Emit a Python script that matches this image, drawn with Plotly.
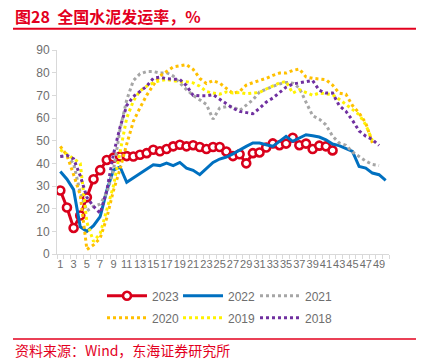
import plotly.graph_objects as go

weeks = list(range(1, 51))
x_tick_labels = [str(i) for i in range(1, 50, 2)]

y2023 = [28, 20.5, 11.5, 17, 25, 33, 37, 41.5, 42.5, 43,
         43.2, 43, 43.8, 44.5, 46, 45.3, 46.3, 47.5, 48.2, 47.5,
         48, 47.2, 46.3, 47.2, 47.2, 45.2, 43.2, 44, 40, 44.5,
         44.8, 47, 48.8, 48, 48.7, 51.3, 48, 48.7, 46.3, 47.8,
         47.5, 45.7]
y2022 = [36.4, 33, 28.4, 12, 10, 12.5, 16.5, 28, 37, 38.4,
         31.6, 33.5, 35.4, 37.5, 39.4, 39, 40.1, 39, 40.4, 37.9,
         36.9, 35, 37.5, 40.4, 41.9, 42.8, 44.2, 46, 47.5, 49,
         49, 48.2, 47.5, 49.7, 51.9, 49.7, 51.2, 52.6, 52.2, 51.6,
         50.4, 48.5, 47.8, 46.5, 45.3, 38.6, 37.9, 35.7, 35, 32.5]
y2021 = [43, 43, 40, 27, 19, 21, 22, 27, 37, 55,
         68, 76.5, 79.5, 80.5, 80.5, 79.8, 80, 78.5, 75.5, 72.5,
         70, 68, 66, 59.5, 64.4, 65, 65, 63.3, 65.5, 68,
         71.5, 72.8, 73.9, 75, 75.7, 75.4, 73.2, 67, 61, 59.5,
         57, 52, 49, 48, 45, 43, 41, 39.5, 39]
y2020 = [47.5, 43.5, 35, 26, 2, 4, 7, 16, 28, 37.5,
         48.5, 58.5, 64.5, 70, 74.5, 78.5, 80.5, 82.5, 83, 83.5,
         81.5, 77.5, 75.2, 76.5, 75.4, 73, 70.8, 71.7, 74.5, 75.6,
         76.4, 77.5, 78.8, 79.8, 79.8, 81, 81.6, 78.1, 77.5, 77.3,
         76.9, 74.5, 71, 70.5, 65.5, 62.2, 57.8, 49]
y2019 = [46, 44, 42, 40, 14, 5.5, 9, 19, 30, 45,
         60, 67.5, 72, 74, 75.5, 76.5, 77, 76.5, 76, 76,
         75.5, 74, 71.7, 71, 70.5, 71.5, 71, 71.2, 70.7, 71,
         71.3, 72.8, 74.2, 75.5, 76.1, 71, 72.5, 71.2, 70, 71,
         70.5, 70.3, 68.3, 66, 64, 61.5, 57, 50]
y2018 = [43, 43.5, 42, 34.5, 25, 21, 18, 28, 44, 56,
         65.5, 69.5, 71.7, 74, 77.5, 78, 77.3, 77.3, 77, 74.3,
         70, 69.8, 69.8, 70.3, 68.3, 66.3, 64.3, 62.9, 62.3, 61.9,
         64.3, 67, 68.8, 71.2, 73.6, 75, 75.5, 76.2, 76.5, 72.2,
         71, 71, 65.5, 63, 59, 54.3, 52, 50.5, 47.9]

RED = "#D9001B"
TXT_RED = "#E3001E"
GRAY_TXT = "#6E6E6E"
AXIS = "#D9D9D9"

fig = go.Figure()
fig.add_trace(go.Scatter(x=weeks[:len(y2023)], y=y2023, name="2023", mode="lines+markers",
                         line=dict(color=RED, width=3),
                         marker=dict(symbol="circle", size=8, color="white",
                                     line=dict(color=RED, width=2.6)),
                         legend="legend"))
fig.add_trace(go.Scatter(x=weeks[:len(y2022)], y=y2022, name="2022", mode="lines",
                         line=dict(color="#0070C0", width=3), legend="legend2"))
fig.add_trace(go.Scatter(x=weeks[:len(y2021)], y=y2021, name="2021", mode="lines",
                         line=dict(color="#A6A6A6", width=3, dash="dot"), legend="legend3"))
fig.add_trace(go.Scatter(x=weeks[:len(y2020)], y=y2020, name="2020", mode="lines",
                         line=dict(color="#FFC000", width=3, dash="dot"), legend="legend4"))
fig.add_trace(go.Scatter(x=weeks[:len(y2019)], y=y2019, name="2019", mode="lines",
                         line=dict(color="#FFF200", width=3, dash="dot"), legend="legend5"))
fig.add_trace(go.Scatter(x=weeks[:len(y2018)], y=y2018, name="2018", mode="lines",
                         line=dict(color="#7030A0", width=3, dash="dot"), legend="legend6"))

legend_common = dict(orientation="h", xanchor="left", yanchor="middle",
                     font=dict(size=12, color=GRAY_TXT), bgcolor="rgba(0,0,0,0)",
                     itemwidth=40, itemclick=False)
col_x = [0.1355, 0.3645, 0.5964]
row_y = [-0.205, -0.313]

fig.update_layout(
    width=421, height=359,
    margin=dict(l=57, r=32, t=50, b=105, autoexpand=False),
    paper_bgcolor="white", plot_bgcolor="white",
    font=dict(family="Liberation Sans, Arial, Noto Sans CJK SC", size=12, color=GRAY_TXT),
    showlegend=True,
    legend=dict(x=col_x[0], y=row_y[0], **legend_common),
    legend2=dict(x=col_x[1], y=row_y[0], **legend_common),
    legend3=dict(x=col_x[2], y=row_y[0], **legend_common),
    legend4=dict(x=col_x[0], y=row_y[1], **legend_common),
    legend5=dict(x=col_x[1], y=row_y[1], **legend_common),
    legend6=dict(x=col_x[2], y=row_y[1], **legend_common),
    xaxis=dict(range=[0.5, 50.5], tickmode="array",
               tickvals=list(range(1, 50, 2)), ticktext=x_tick_labels,
               tickangle=0, ticks="", showline=True, linecolor=AXIS, linewidth=1,
               showgrid=False, zeroline=False,
               tickfont=dict(size=11, color=GRAY_TXT),
               minor=dict(ticks="outside", tickmode="linear", tick0=0.5, dtick=1,
                          ticklen=4, tickcolor=AXIS, tickwidth=1, showgrid=False)),
    yaxis=dict(range=[0, 90], tickmode="linear", tick0=0, dtick=10,
               ticks="outside", ticklen=4, tickcolor=AXIS,
               showline=True, linecolor=AXIS, linewidth=1,
               showgrid=False, zeroline=False,
               tickfont=dict(size=12, color=GRAY_TXT)),
)

# title and source with red rules
fig.add_annotation(xref="paper", yref="paper", x=-0.1325, y=1.166, xanchor="left", yanchor="middle",
                   text="<b>图28  全国水泥发运率，%</b>", showarrow=False,
                   font=dict(family="Noto Sans CJK SC", size=16, color=TXT_RED))
fig.add_shape(type="line", xref="paper", yref="paper", x0=-0.1325, x1=1.0813, y0=1.1044, y1=1.1044,
              line=dict(color=TXT_RED, width=2))
fig.add_shape(type="line", xref="paper", yref="paper", x0=-0.1325, x1=1.0813, y0=-0.4167, y1=-0.4167,
              line=dict(color=TXT_RED, width=1.5))
fig.add_annotation(xref="paper", yref="paper", x=-0.1325, y=-0.469, xanchor="left", yanchor="middle",
                   text="资料来源：Wind，东海证券研究所", showarrow=False,
                   font=dict(family="Noto Sans CJK SC", size=14, color=TXT_RED))

fig.write_html("out.html", config={"displayModeBar": False},
               post_script="document.body.style.margin='0';")
